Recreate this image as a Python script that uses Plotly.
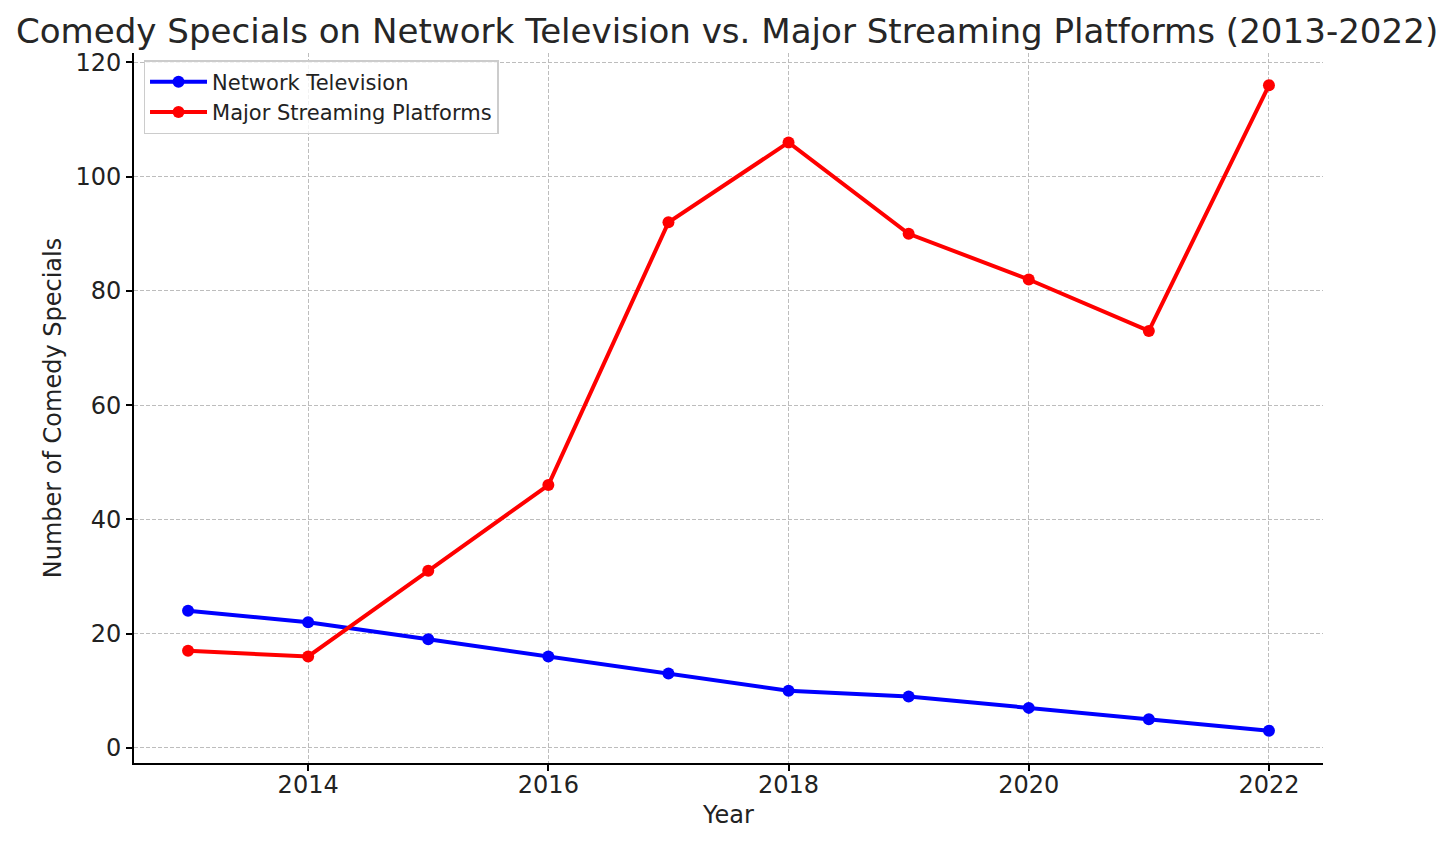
import plotly.graph_objects as go

years = [2013, 2014, 2015, 2016, 2017, 2018, 2019, 2020, 2021, 2022]
network_tv = [24, 22, 19, 16, 13, 10, 9, 7, 5, 3]
streaming = [17, 16, 31, 46, 92, 106, 90, 82, 73, 116]
x_ticks = [2014, 2016, 2018, 2020, 2022]
y_ticks = [0, 20, 40, 60, 80, 100, 120]

font_family = "DejaVu Sans, sans-serif"

fig = go.Figure()
fig.add_trace(go.Scatter(x=years, y=network_tv, mode="lines+markers", name="Network Television",
                         line=dict(color="#0000ff", width=4), marker=dict(color="#0000ff", size=12)))
fig.add_trace(go.Scatter(x=years, y=streaming, mode="lines+markers", name="Major Streaming Platforms",
                         line=dict(color="#ff0000", width=4), marker=dict(color="#ff0000", size=12)))

fig.update_layout(
    width=1448, height=837,
    paper_bgcolor="white", plot_bgcolor="white",
    margin=dict(l=126, r=133, t=45, b=82),
    font=dict(family=font_family, color="#222222", size=24),
    title=dict(text="Comedy Specials on Network Television vs. Major Streaming Platforms (2013-2022)",
               x=0.4966, xanchor="center", y=0.973, yanchor="middle",
               font=dict(size=34.1, family=font_family, color="#262626")),
    legend=dict(x=0.008, y=0.99, xanchor="left", yanchor="top",
                bgcolor="rgba(255,255,255,0.8)", bordercolor="#cccccc", borderwidth=1.5,
                itemwidth=57, tracegroupgap=0,
                font=dict(size=21, family=font_family)),
    showlegend=True,
)
common = dict(showline=True, linecolor="black", linewidth=1.8, mirror=False,
              showgrid=True, gridcolor="#bdbdbd", griddash="4px,2px", gridwidth=1,
              ticks="outside", ticklen=6, tickwidth=1.5, tickcolor="black", zeroline=False,
              tickfont=dict(size=24))
fig.update_xaxes(range=[2012.55, 2022.45], tickvals=x_ticks, ticktext=[str(t) for t in x_ticks],
                 ticklabelstandoff=-7,
                 title=dict(text="Year", font=dict(size=24), standoff=8), **common)
fig.update_yaxes(range=[-2.65, 121.65], tickvals=y_ticks,
                 title=dict(text="Number of Comedy Specials", font=dict(size=24), standoff=7), **common)

fig.write_html("out.html")
